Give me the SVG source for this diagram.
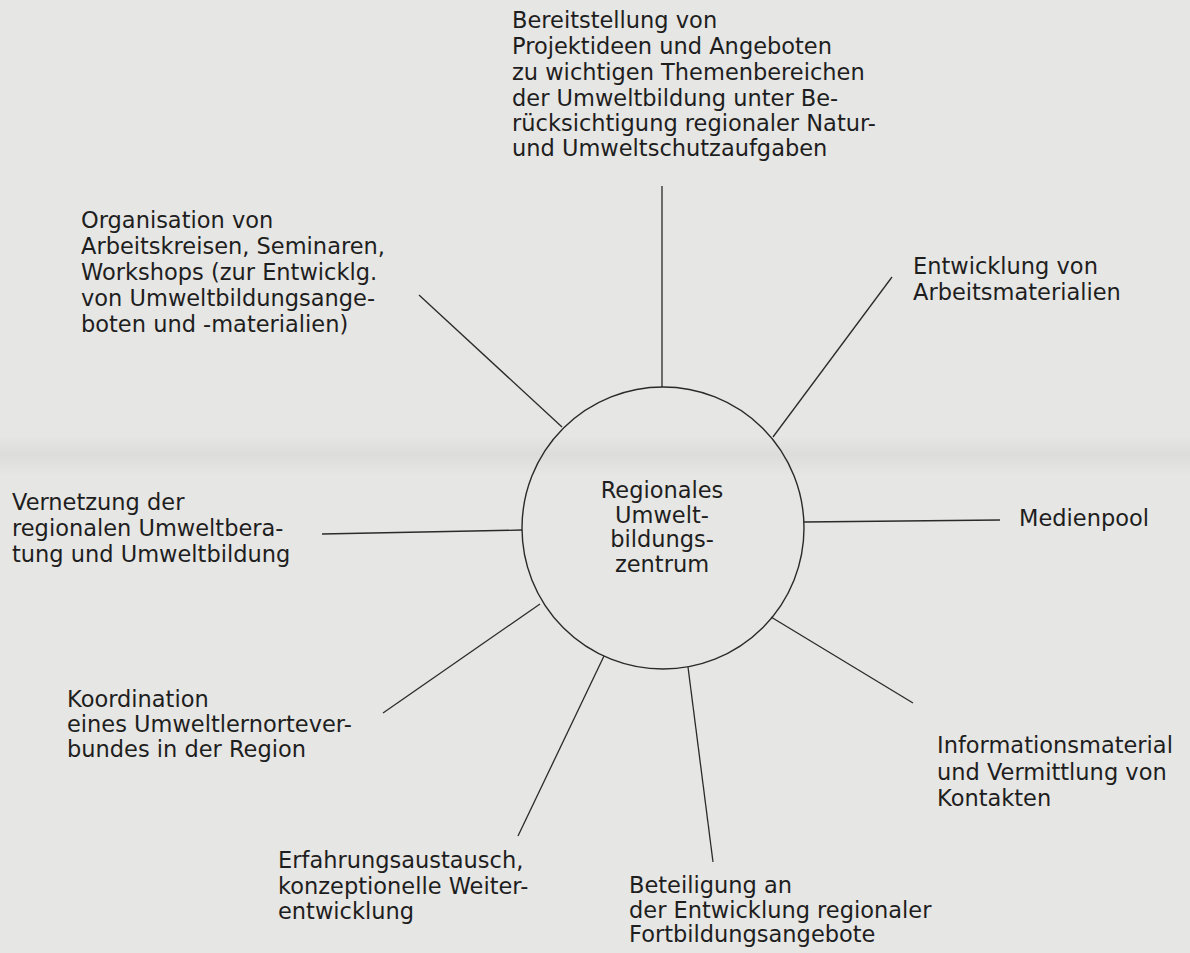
<svg xmlns="http://www.w3.org/2000/svg" width="1190" height="953" viewBox="0 0 1190 953">
  <defs>
    <linearGradient id="band" x1="0" y1="0" x2="0" y2="1">
      <stop offset="0" stop-color="#d6d6d4" stop-opacity="0"/>
      <stop offset="0.5" stop-color="#d6d6d4" stop-opacity="0.6"/>
      <stop offset="1" stop-color="#d6d6d4" stop-opacity="0"/>
    </linearGradient>
  </defs>
  <style>
    .bg { fill: #e6e6e4; }
    .lbl { font-family: "DejaVu Sans", "Liberation Sans", sans-serif; font-size: 22.5px; fill: #1e1e1e; }
    .ctr { text-anchor: middle; }
    .conn line { stroke: #2a2a2a; stroke-width: 1.3; }
    .hub { fill: none; stroke: #2a2a2a; stroke-width: 1.4; }
  </style>
  <rect class="bg" x="0" y="0" width="1190" height="953"/>
  <rect x="0" y="435" width="1190" height="40" fill="url(#band)"/>

  <g id="connectors" class="conn">
    <line x1="662" y1="186" x2="662" y2="387"/>
    <line x1="892" y1="277" x2="773" y2="437"/>
    <line x1="804" y1="522" x2="1000" y2="520"/>
    <line x1="771" y1="617" x2="913" y2="703"/>
    <line x1="688" y1="667" x2="713" y2="862"/>
    <line x1="604" y1="656" x2="518" y2="836"/>
    <line x1="540" y1="604" x2="383" y2="713"/>
    <line x1="522" y1="530" x2="322" y2="534"/>
    <line x1="562" y1="427" x2="419" y2="295"/>
  </g>

  <g id="hub">
    <circle class="hub" cx="663" cy="528" r="141"/>
    <text class="lbl ctr" x="662" y="498">Regionales</text>
    <text class="lbl ctr" x="662" y="523">Umwelt-</text>
    <text class="lbl ctr" x="662" y="547">bildungs-</text>
    <text class="lbl ctr" x="662" y="572">zentrum</text>
  </g>

  <g id="n-bereitstellung">
    <text class="lbl" x="512" y="28">Bereitstellung von</text>
    <text class="lbl" x="512" y="54">Projektideen und Angeboten</text>
    <text class="lbl" x="512" y="80">zu wichtigen Themenbereichen</text>
    <text class="lbl" x="512" y="106">der Umweltbildung unter Be-</text>
    <text class="lbl" x="512" y="131">rücksichtigung regionaler Natur-</text>
    <text class="lbl" x="512" y="156">und Umweltschutzaufgaben</text>
  </g>

  <g id="n-entwicklung">
    <text class="lbl" x="913" y="274">Entwicklung von</text>
    <text class="lbl" x="913" y="300">Arbeitsmaterialien</text>
  </g>

  <g id="n-medienpool">
    <text class="lbl" x="1019" y="526">Medienpool</text>
  </g>

  <g id="n-information">
    <text class="lbl" x="937" y="753">Informationsmaterial</text>
    <text class="lbl" x="937" y="780">und Vermittlung von</text>
    <text class="lbl" x="937" y="806">Kontakten</text>
  </g>

  <g id="n-beteiligung">
    <text class="lbl" x="629" y="893">Beteiligung an</text>
    <text class="lbl" x="629" y="918">der Entwicklung regionaler</text>
    <text class="lbl" x="629" y="942">Fortbildungsangebote</text>
  </g>

  <g id="n-erfahrung">
    <text class="lbl" x="278" y="868">Erfahrungsaustausch,</text>
    <text class="lbl" x="278" y="894">konzeptionelle Weiter-</text>
    <text class="lbl" x="278" y="919">entwicklung</text>
  </g>

  <g id="n-koordination">
    <text class="lbl" x="67" y="707">Koordination</text>
    <text class="lbl" x="67" y="732">eines Umweltlernortever-</text>
    <text class="lbl" x="67" y="757">bundes in der Region</text>
  </g>

  <g id="n-vernetzung">
    <text class="lbl" x="12" y="510">Vernetzung der</text>
    <text class="lbl" x="12" y="536">regionalen Umweltbera-</text>
    <text class="lbl" x="12" y="562">tung und Umweltbildung</text>
  </g>

  <g id="n-organisation">
    <text class="lbl" x="81" y="228">Organisation von</text>
    <text class="lbl" x="81" y="254">Arbeitskreisen, Seminaren,</text>
    <text class="lbl" x="81" y="280">Workshops (zur Entwicklg.</text>
    <text class="lbl" x="81" y="306">von Umweltbildungsange-</text>
    <text class="lbl" x="81" y="332">boten und -materialien)</text>
  </g>
</svg>
